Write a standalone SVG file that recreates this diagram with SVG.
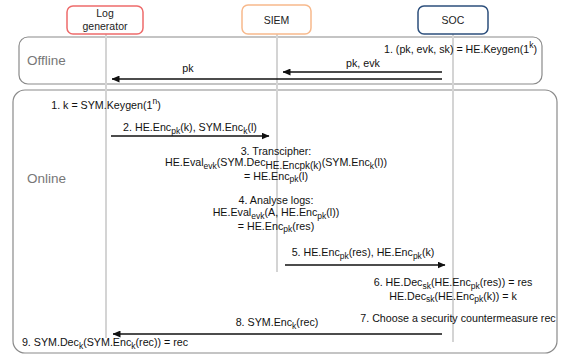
<svg xmlns="http://www.w3.org/2000/svg" width="561" height="356" viewBox="0 0 561 356">
<defs>
<marker id="ah" markerWidth="8" markerHeight="7" refX="7.5" refY="3.5" orient="auto" markerUnits="userSpaceOnUse"><path d="M0,0 L8,3.5 L0,7 Z" fill="#111"/></marker>
<style>
.t{font-family:"Liberation Sans",Arial,sans-serif;font-size:10.7px;fill:#111}
.s{font-size:8.5px}
.lbl{font-family:"Liberation Sans",Arial,sans-serif;font-size:10.5px;fill:#222;text-anchor:middle}
.phase{font-family:"Liberation Sans",Arial,sans-serif;font-size:13.5px;fill:#777}
.m{text-anchor:middle}
.e{text-anchor:end}
.frame{fill:none;stroke:#8a8a8a;stroke-width:1.2}
.life{stroke:#d4d4d4;stroke-width:2}
.arr{stroke:#111;stroke-width:1.5;fill:none;marker-end:url(#ah)}
.node{fill:#fff;stroke-width:1.5}
</style>
</defs>
<rect class="frame" x="19" y="37" width="523" height="47" rx="9"/>
<rect class="frame" x="13" y="90" width="544" height="263" rx="12"/>
<text class="phase" x="27" y="65">Offline</text>
<text class="phase" x="27" y="183">Online</text>
<g id="lifelines">
<line class="life" x1="106" y1="34" x2="106" y2="338"/>
<line class="life" x1="277" y1="34" x2="277" y2="272"/>
<line class="life" x1="453" y1="34" x2="453" y2="342"/>
</g>
<g id="node-log"><rect class="node" x="67" y="6" width="76" height="28" rx="6" stroke="#ee6b6b"/><text class="lbl" x="105" y="17">Log</text><text class="lbl" x="105" y="30">generator</text></g>
<g id="node-siem"><rect class="node" x="242" y="5" width="69" height="29" rx="6" stroke="#f7b98c"/><text class="lbl" x="276.5" y="24">SIEM</text></g>
<g id="node-soc"><rect class="node" x="418" y="6" width="70" height="28" rx="6" stroke="#2c4f7c"/><text class="lbl" x="453" y="24">SOC</text></g>
<g id="connectors">
<line class="arr" x1="442" y1="72" x2="283" y2="72"/>
<line class="arr" x1="442" y1="79" x2="112" y2="79"/>
<line class="arr" x1="111" y1="136" x2="269" y2="136"/>
<line class="arr" x1="285" y1="265" x2="445" y2="265"/>
<line class="arr" x1="442" y1="334" x2="113" y2="334"/>
</g>
<g id="texts">
<text class="t e" x="537" y="53">1. (pk, evk, sk) = HE.Keygen(1<tspan class="s" dy="-5">k</tspan><tspan dy="5">)</tspan></text>
<text class="t m" x="363" y="67">pk, evk</text>
<text class="t m" x="188" y="72">pk</text>
<text class="t m" x="106" y="109">1. k = SYM.Keygen(1<tspan class="s" dy="-5">n</tspan><tspan dy="5">)</tspan></text>
<text class="t m" x="190" y="131">2. HE.Enc<tspan class="s" dy="2.5">pk</tspan><tspan dy="-2.5">(k), SYM.Enc</tspan><tspan class="s" dy="2.5">k</tspan><tspan dy="-2.5">(l)</tspan></text>
<text class="t m" x="276" y="155">3. Transcipher:</text>
<text class="t m" x="276" y="166">HE.Eval<tspan class="s" dy="2.5">evk</tspan><tspan dy="-2.5">(SYM.Dec</tspan><tspan font-size="10" dy="2.5">HE.Encpk(k)</tspan><tspan dy="-2.5">(SYM.Enc</tspan><tspan class="s" dy="2.5">k</tspan><tspan dy="-2.5">(l))</tspan></text>
<text class="t m" x="276" y="179.5">= HE.Enc<tspan class="s" dy="2.5">pk</tspan><tspan dy="-2.5">(l)</tspan></text>
<text class="t m" x="276" y="204">4. Analyse logs:</text>
<text class="t m" x="276" y="216">HE.Eval<tspan class="s" dy="2.5">evk</tspan><tspan dy="-2.5">(A, HE.Enc</tspan><tspan class="s" dy="2.5">pk</tspan><tspan dy="-2.5">(l))</tspan></text>
<text class="t m" x="276" y="229.5">= HE.Enc<tspan class="s" dy="2.5">pk</tspan><tspan dy="-2.5">(res)</tspan></text>
<text class="t m" x="363" y="256">5. HE.Enc<tspan class="s" dy="2.5">pk</tspan><tspan dy="-2.5">(res), HE.Enc</tspan><tspan class="s" dy="2.5">pk</tspan><tspan dy="-2.5">(k)</tspan></text>
<text class="t m" x="453" y="286">6. HE.Dec<tspan class="s" dy="2.5">sk</tspan><tspan dy="-2.5">(HE.Enc</tspan><tspan class="s" dy="2.5">pk</tspan><tspan dy="-2.5">(res)) = res</tspan></text>
<text class="t m" x="453" y="299.5">HE.Dec<tspan class="s" dy="2.5">sk</tspan><tspan dy="-2.5">(HE.Enc</tspan><tspan class="s" dy="2.5">pk</tspan><tspan dy="-2.5">(k)) = k</tspan></text>
<text class="t m" x="458" y="322">7. Choose a security countermeasure rec</text>
<text class="t m" x="277" y="326">8. SYM.Enc<tspan class="s" dy="2.5">k</tspan><tspan dy="-2.5">(rec)</tspan></text>
<text class="t m" x="105" y="346">9. SYM.Dec<tspan class="s" dy="2.5">k</tspan><tspan dy="-2.5">(SYM.Enc</tspan><tspan class="s" dy="2.5">k</tspan><tspan dy="-2.5">(rec)) = rec</tspan></text>
</g>
</svg>
